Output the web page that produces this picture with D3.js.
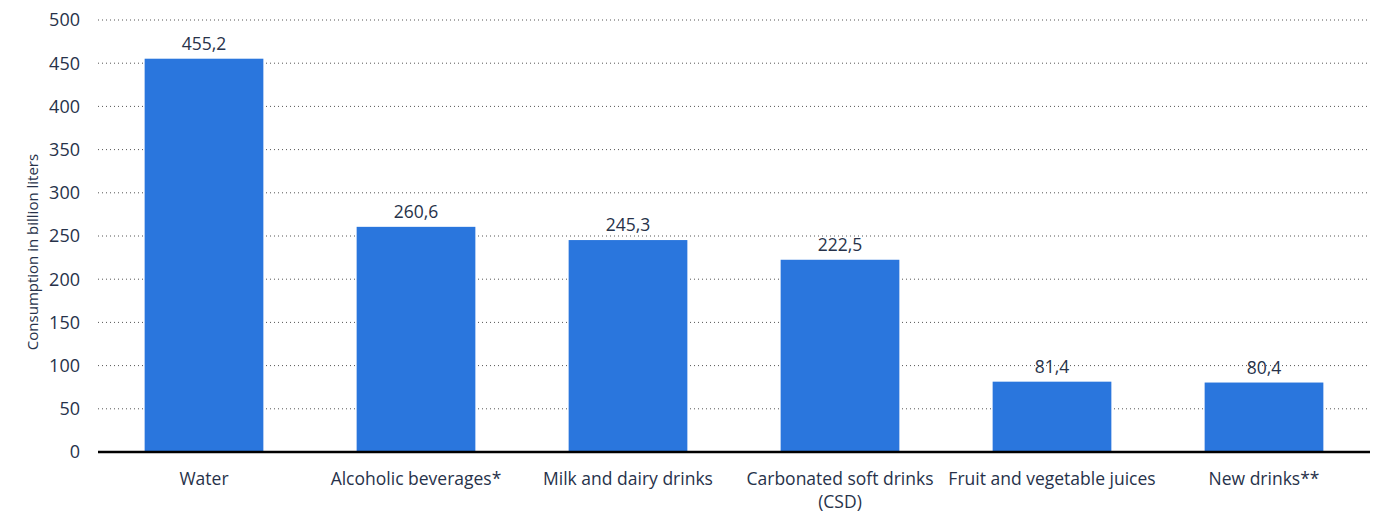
<!DOCTYPE html>
<html>
<head>
<meta charset="utf-8">
<script src="https://cdn.jsdelivr.net/npm/d3@7"></script>
<style>
  body { margin: 0; background: #fff; }
  text { font-family: "Open Sans", sans-serif; fill: #27324a; }
</style>
</head>
<body>
<svg id="chart" width="1389" height="524"></svg>
<script>
const categories = ["Water", "Alcoholic beverages*", "Milk and dairy drinks",
  "Carbonated soft drinks|(CSD)", "Fruit and vegetable juices", "New drinks**"];
const values = [455.2, 260.6, 245.3, 222.5, 81.4, 80.4];
const yTicks = [0, 50, 100, 150, 200, 250, 300, 350, 400, 450, 500];

const LEFT = 98, RIGHT = 1370, TOP = 20, BOTTOM = 452;

var svg = d3.select("#chart");

var x = d3.scaleBand()
  .domain(categories)
  .range([LEFT, RIGHT])
  .paddingInner(0.44)
  .paddingOuter(0.22);

var y = d3.scaleLinear()
  .domain([0, 500])
  .range([BOTTOM, TOP]);

var fmt = v => v.toFixed(1).replace(".", ",");

// grid
svg.append("g")
  .selectAll("line")
  .data(yTicks.filter(t => t > 0))
  .enter()
  .append("line")
  .attr("x1", LEFT)
  .attr("x2", RIGHT)
  .attr("y1", d => y(d))
  .attr("y2", d => y(d))
  .attr("stroke", "#555")
  .attr("stroke-width", 1)
  .attr("stroke-dasharray", "1,3");

// y axis labels
svg.append("g")
  .selectAll("text")
  .data(yTicks)
  .enter()
  .append("text")
  .attr("x", 80)
  .attr("y", d => y(d))
  .attr("dy", "0.36em")
  .attr("text-anchor", "end")
  .style("font-size", "18px")
  .text(d => d);

svg.append("text")
  .attr("transform", `translate(38,${(TOP + BOTTOM) / 2 + 16}) rotate(-90)`)
  .attr("text-anchor", "middle")
  .style("font-size", "15px")
  .text("Consumption in billion liters");

// bars
svg.append("g")
  .selectAll("rect")
  .data(values)
  .enter()
  .append("rect")
  .attr("x", (d, i) => x(categories[i]))
  .attr("y", d => y(d))
  .attr("width", x.bandwidth())
  .attr("height", d => BOTTOM - y(d))
  .attr("fill", "#2a76dd");

// value labels
svg.append("g")
  .selectAll("text")
  .data(values)
  .enter()
  .append("text")
  .attr("x", (d, i) => x(categories[i]) + x.bandwidth() / 2)
  .attr("y", d => y(d) - 9)
  .attr("text-anchor", "middle")
  .style("font-size", "17.5px")
  .text(fmt);

// baseline
svg.append("line")
  .attr("x1", LEFT)
  .attr("x2", RIGHT)
  .attr("y1", BOTTOM)
  .attr("y2", BOTTOM)
  .attr("stroke", "#000")
  .attr("stroke-width", 2.5);

// category labels
var cat = svg.append("g")
  .selectAll("text")
  .data(categories)
  .enter()
  .append("text")
  .attr("x", d => x(d) + x.bandwidth() / 2)
  .attr("y", 485)
  .attr("text-anchor", "middle")
  .style("font-size", "17.5px");

cat.selectAll("tspan")
  .data(d => d.split("|"))
  .enter()
  .append("tspan")
  .attr("x", function () { return d3.select(this.parentNode).attr("x"); })
  .attr("dy", (d, i) => i ? "1.3em" : 0)
  .text(d => d);
</script>
</body>
</html>
